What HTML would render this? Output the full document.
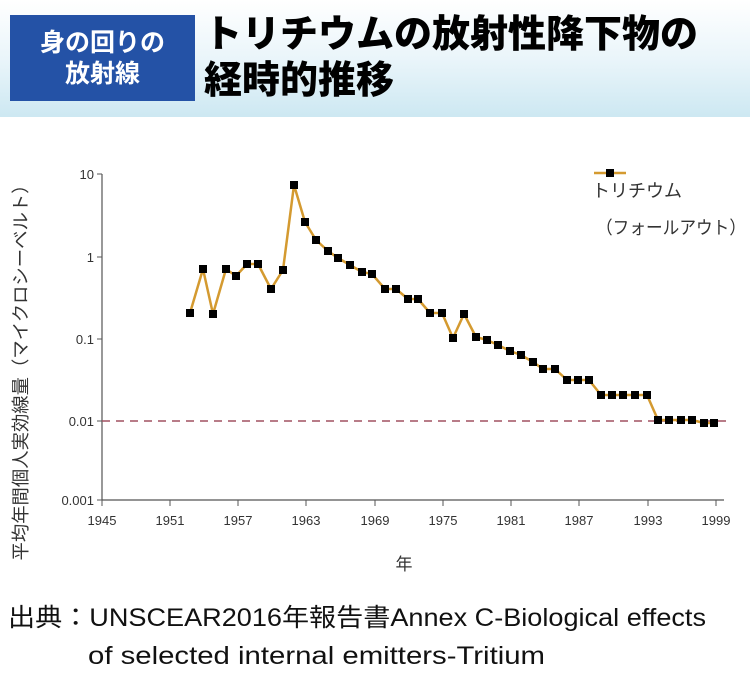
<!DOCTYPE html>
<html><head><meta charset="utf-8"><style>
body{margin:0;width:750px;height:682px;background:#fff;font-family:"Liberation Sans","Noto Sans CJK JP",sans-serif;overflow:hidden;position:relative}
.hdr{position:absolute;left:0;top:0;width:750px;height:117px;background:linear-gradient(#fff 0%,#eaf5fa 50%,#cde8f2 100%)}
.box{position:absolute;left:10px;top:15px;width:185px;height:86px;background:#2452a6;color:#fff;font-weight:bold;font-size:25px;line-height:31px;text-align:center;padding-top:13px;box-sizing:border-box}
.ttl{position:absolute;left:204px;top:12px;font-weight:900;font-size:38px;line-height:46px;color:#000;white-space:nowrap}
</style></head><body>
<div class="hdr"></div>
<div class="box">身の回りの<br>放射線</div>
<div class="ttl">トリチウムの放射性降下物の<br>経時的推移</div>
<svg width="750" height="682" style="position:absolute;left:0;top:0">
<g font-family="Liberation Sans,Noto Sans CJK JP,sans-serif" font-size="13" fill="#333">
<line x1="102" y1="174" x2="102" y2="500" stroke="#555" stroke-width="1.2"/>
<line x1="102" y1="500" x2="724" y2="500" stroke="#555" stroke-width="1.2"/>
<g stroke="#555"><line x1="97" y1="174" x2="102" y2="174"/><line x1="97" y1="257" x2="102" y2="257"/><line x1="97" y1="339" x2="102" y2="339"/><line x1="97" y1="421" x2="102" y2="421"/><line x1="97" y1="500" x2="102" y2="500"/>
<line x1="102" y1="500" x2="102" y2="506"/><line x1="170" y1="500" x2="170" y2="506"/><line x1="238" y1="500" x2="238" y2="506"/><line x1="306" y1="500" x2="306" y2="506"/><line x1="375" y1="500" x2="375" y2="506"/><line x1="443" y1="500" x2="443" y2="506"/><line x1="511" y1="500" x2="511" y2="506"/><line x1="579" y1="500" x2="579" y2="506"/><line x1="648" y1="500" x2="648" y2="506"/><line x1="716" y1="500" x2="716" y2="506"/></g>
<g text-anchor="end"><text x="94" y="179">10</text><text x="94" y="262">1</text><text x="94" y="344">0.1</text><text x="94" y="426">0.01</text><text x="94" y="505">0.001</text></g>
<g text-anchor="middle"><text x="102" y="525">1945</text><text x="170" y="525">1951</text><text x="238" y="525">1957</text><text x="306" y="525">1963</text><text x="375" y="525">1969</text><text x="443" y="525">1975</text><text x="511" y="525">1981</text><text x="579" y="525">1987</text><text x="648" y="525">1993</text><text x="716" y="525">1999</text></g>
<text x="404" y="570" font-size="17" text-anchor="middle">年</text>
<text transform="translate(27,368) rotate(-90)" font-size="18" text-anchor="middle" fill="#333" textLength="385" lengthAdjust="spacingAndGlyphs">平均年間個人実効線量（マイクロシーベルト）</text>
<text x="592" y="197" font-size="18">トリチウム</text>
<text x="596" y="234" font-size="18" textLength="150" lengthAdjust="spacingAndGlyphs">（フォールアウト）</text>
<text x="8" y="626" font-size="25" fill="#111" textLength="698" lengthAdjust="spacingAndGlyphs">出典：UNSCEAR2016年報告書Annex C-Biological effects</text>
<text x="88" y="664" font-size="25" fill="#111" textLength="457" lengthAdjust="spacingAndGlyphs">of selected internal emitters-Tritium</text>
</g>
<line x1="102" y1="421" x2="726" y2="421" stroke="#a05060" stroke-width="1.5" stroke-dasharray="8,6"/>
<line x1="594" y1="173" x2="626" y2="173" stroke="#d49a30" stroke-width="2.5"/>
<rect x="606" y="169" width="8" height="8" fill="#000"/>
<polyline fill="none" stroke="#d49a30" stroke-width="2.5" stroke-linejoin="round" points="190,313 203,269 213,314 226,269 236,276 247,264 258,264 271,289 283,270 294,185 305,222 316,240 328,251 338,258 350,265 362,272 372,274 385,289 396,289 408,299 418,299 430,313 442,313 453,338 464,314 476,337 487,340 498,345 510,351 521,355 533,362 543,369 555,369 567,380 578,380 589,380 601,395 612,395 623,395 635,395 647,395 658,420 669,420 681,420 692,420 704,423 714,423"/>
<g fill="#000">
<rect x="186" y="309" width="8" height="8"/><rect x="199" y="265" width="8" height="8"/><rect x="209" y="310" width="8" height="8"/><rect x="222" y="265" width="8" height="8"/><rect x="232" y="272" width="8" height="8"/><rect x="243" y="260" width="8" height="8"/><rect x="254" y="260" width="8" height="8"/><rect x="267" y="285" width="8" height="8"/><rect x="279" y="266" width="8" height="8"/><rect x="290" y="181" width="8" height="8"/><rect x="301" y="218" width="8" height="8"/><rect x="312" y="236" width="8" height="8"/><rect x="324" y="247" width="8" height="8"/><rect x="334" y="254" width="8" height="8"/><rect x="346" y="261" width="8" height="8"/><rect x="358" y="268" width="8" height="8"/><rect x="368" y="270" width="8" height="8"/><rect x="381" y="285" width="8" height="8"/><rect x="392" y="285" width="8" height="8"/><rect x="404" y="295" width="8" height="8"/><rect x="414" y="295" width="8" height="8"/><rect x="426" y="309" width="8" height="8"/><rect x="438" y="309" width="8" height="8"/><rect x="449" y="334" width="8" height="8"/><rect x="460" y="310" width="8" height="8"/><rect x="472" y="333" width="8" height="8"/><rect x="483" y="336" width="8" height="8"/><rect x="494" y="341" width="8" height="8"/><rect x="506" y="347" width="8" height="8"/><rect x="517" y="351" width="8" height="8"/><rect x="529" y="358" width="8" height="8"/><rect x="539" y="365" width="8" height="8"/><rect x="551" y="365" width="8" height="8"/><rect x="563" y="376" width="8" height="8"/><rect x="574" y="376" width="8" height="8"/><rect x="585" y="376" width="8" height="8"/><rect x="597" y="391" width="8" height="8"/><rect x="608" y="391" width="8" height="8"/><rect x="619" y="391" width="8" height="8"/><rect x="631" y="391" width="8" height="8"/><rect x="643" y="391" width="8" height="8"/><rect x="654" y="416" width="8" height="8"/><rect x="665" y="416" width="8" height="8"/><rect x="677" y="416" width="8" height="8"/><rect x="688" y="416" width="8" height="8"/><rect x="700" y="419" width="8" height="8"/><rect x="710" y="419" width="8" height="8"/>
</g>
</svg>
</body></html>
